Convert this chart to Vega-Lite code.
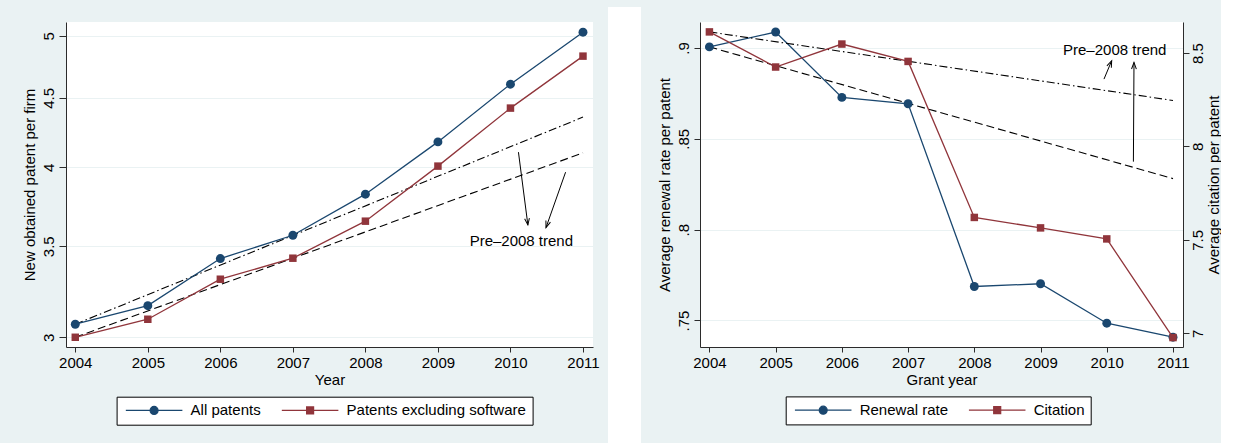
{
  "$schema": "https://vega.github.io/schema/vega-lite/v6.json",
  "background": "#eaf2f3",
  "padding": {"left": 22, "top": 7, "right": 0, "bottom": 0},
  "datasets": {
    "patents": [
      {"year": 2004, "series": "All patents", "value": 3.067},
      {"year": 2005, "series": "All patents", "value": 3.165},
      {"year": 2006, "series": "All patents", "value": 3.428},
      {"year": 2007, "series": "All patents", "value": 3.566},
      {"year": 2008, "series": "All patents", "value": 3.823},
      {"year": 2009, "series": "All patents", "value": 4.177},
      {"year": 2010, "series": "All patents", "value": 4.606},
      {"year": 2011, "series": "All patents", "value": 5.03},
      {"year": 2004, "series": "Patents excluding software", "value": 3.0},
      {"year": 2005, "series": "Patents excluding software", "value": 3.093},
      {"year": 2006, "series": "Patents excluding software", "value": 3.31},
      {"year": 2007, "series": "Patents excluding software", "value": 3.43},
      {"year": 2008, "series": "Patents excluding software", "value": 3.652},
      {"year": 2009, "series": "Patents excluding software", "value": 4.009},
      {"year": 2010, "series": "Patents excluding software", "value": 4.423},
      {"year": 2011, "series": "Patents excluding software", "value": 4.83}
    ],
    "patent_trends": [
      {"year": 2004, "series": "All patents", "value": 3.067},
      {"year": 2011, "series": "All patents", "value": 4.356},
      {"year": 2004, "series": "Patents excluding software", "value": 3.0},
      {"year": 2011, "series": "Patents excluding software", "value": 4.1}
    ],
    "left_arrows": [
      {"from_year": 2010.11, "from_value": 4.105, "to_year": 2010.24, "to_value": 3.629, "heading": 172.6},
      {"from_year": 2010.76, "from_value": 3.968, "to_year": 2010.49, "to_value": 3.6125, "heading": 199.2}
    ],
    "renewal": [
      {"year": 2004, "measure": "Renewal rate", "value": 0.9006},
      {"year": 2005, "measure": "Renewal rate", "value": 0.9088},
      {"year": 2006, "measure": "Renewal rate", "value": 0.8728},
      {"year": 2007, "measure": "Renewal rate", "value": 0.8693},
      {"year": 2008, "measure": "Renewal rate", "value": 0.7687},
      {"year": 2009, "measure": "Renewal rate", "value": 0.7702},
      {"year": 2010, "measure": "Renewal rate", "value": 0.7485},
      {"year": 2011, "measure": "Renewal rate", "value": 0.7408}
    ],
    "renewal_trend": [
      {"year": 2004, "value": 0.9006},
      {"year": 2011, "value": 0.8281}
    ],
    "citation": [
      {"year": 2004, "measure": "Citation", "value": 8.613},
      {"year": 2005, "measure": "Citation", "value": 8.425},
      {"year": 2006, "measure": "Citation", "value": 8.548},
      {"year": 2007, "measure": "Citation", "value": 8.455},
      {"year": 2008, "measure": "Citation", "value": 7.62},
      {"year": 2009, "measure": "Citation", "value": 7.564},
      {"year": 2010, "measure": "Citation", "value": 7.505},
      {"year": 2011, "measure": "Citation", "value": 6.977}
    ],
    "citation_trend": [
      {"year": 2004, "value": 8.613},
      {"year": 2011, "value": 8.246}
    ],
    "right_arrows": [
      {"from_year": 2009.958, "from_value": 8.3605, "to_year": 2010.074, "to_value": 8.4587, "heading": 22.8},
      {"from_year": 2010.402, "from_value": 7.9185, "to_year": 2010.411, "to_value": 8.4496, "heading": 0.3}
    ]
  },
  "spacing": 16,
  "resolve": {"scale": {"color": "independent"}, "legend": {"color": "independent"}},
  "hconcat": [
    {
      "spacing": 8,
      "hconcat": [
        {
          "width": 527,
          "height": 325,
          "layer": [
            {
              "data": {"name": "patent_trends"},
              "mark": {"type": "line", "color": "#000000", "strokeWidth": 1.1},
              "encoding": {
                "x": {"field": "year", "type": "quantitative", "scale": {"domain": [2003.872, 2011.138], "nice": false, "zero": false},
                      "axis": {"values": [2004, 2005, 2006, 2007, 2008, 2009, 2010, 2011], "format": "d", "title": "Year"}},
                "y": {"field": "value", "type": "quantitative", "scale": {"type": "log", "domain": [2.951, 5.1175], "nice": false},
                      "axis": {"values": [3, 3.5, 4, 4.5, 5], "format": "~g", "title": "New obtained patent per firm", "tickSize": 7}},
                "strokeDash": {"field": "series", "type": "nominal", "legend": null,
                               "scale": {"domain": ["All patents", "Patents excluding software"], "range": [[8, 3, 1.5, 3], [8, 4]]}}
              }
            },
            {
              "data": {"name": "patents"},
              "mark": {"type": "line", "strokeWidth": 1.3},
              "encoding": {
                "x": {"field": "year", "type": "quantitative", "scale": {"domain": [2003.872, 2011.138], "nice": false, "zero": false}},
                "y": {"field": "value", "type": "quantitative", "scale": {"type": "log", "domain": [2.951, 5.1175], "nice": false}},
                "color": {"field": "series", "type": "nominal",
                          "scale": {"domain": ["All patents", "Patents excluding software"], "range": ["#1a476f", "#90353b"]},
                          "legend": {"title": null, "orient": "none", "legendX": 50.6, "legendY": 374.7,
                            "encode": {"symbols": {"update": {
                            "shape": {"signal": "datum.value === 'All patents' ? 'M-7.07,0L7.07,0M-1,0A1,1,0,1,0,1,0A1,1,0,1,0,-1,0Z' : 'M-7.07,0L7.07,0M-0.875,-0.875L0.875,-0.875L0.875,0.875L-0.875,0.875Z'"},
                            "fill": {"signal": "datum.value === 'All patents' ? '#1a476f' : '#90353b'"},
                            "stroke": {"signal": "datum.value === 'All patents' ? '#1a476f' : '#90353b'"}
                          }}}}}
              }
            },
            {
              "data": {"name": "patents"},
              "transform": [{"filter": "datum.series === 'All patents'"}],
              "mark": {"type": "point", "shape": "circle", "filled": true, "size": 80, "opacity": 1, "color": "#1a476f"},
              "encoding": {
                "x": {"field": "year", "type": "quantitative", "scale": {"domain": [2003.872, 2011.138], "nice": false, "zero": false}},
                "y": {"field": "value", "type": "quantitative", "scale": {"type": "log", "domain": [2.951, 5.1175], "nice": false}}
              }
            },
            {
              "data": {"name": "patents"},
              "transform": [{"filter": "datum.series === 'Patents excluding software'"}],
              "mark": {"type": "point", "shape": "square", "filled": true, "size": 56, "opacity": 1, "color": "#90353b"},
              "encoding": {
                "x": {"field": "year", "type": "quantitative", "scale": {"domain": [2003.872, 2011.138], "nice": false, "zero": false}},
                "y": {"field": "value", "type": "quantitative", "scale": {"type": "log", "domain": [2.951, 5.1175], "nice": false}}
              }
            },
            {
              "data": {"name": "left_arrows"},
              "mark": {"type": "rule", "color": "#000000", "strokeWidth": 1},
              "encoding": {
                "x": {"field": "from_year", "type": "quantitative", "scale": {"domain": [2003.872, 2011.138], "nice": false, "zero": false}},
                "y": {"field": "from_value", "type": "quantitative", "scale": {"type": "log", "domain": [2.951, 5.1175], "nice": false}},
                "x2": {"field": "to_year"},
                "y2": {"field": "to_value"}
              }
            },
            {
              "data": {"name": "left_arrows"},
              "mark": {"type": "point", "shape": "M-0.48,1.32L0,0L0.48,1.32", "filled": false, "size": 100, "opacity": 1, "color": "#000000", "strokeWidth": 1},
              "encoding": {
                "x": {"field": "to_year", "type": "quantitative", "scale": {"domain": [2003.872, 2011.138], "nice": false, "zero": false}},
                "y": {"field": "to_value", "type": "quantitative", "scale": {"type": "log", "domain": [2.951, 5.1175], "nice": false}},
                "angle": {"field": "heading", "type": "quantitative", "scale": null}
              }
            },
            {
              "data": {"values": [{"year": 2010.15, "value": 3.532, "note": "Pre–2008 trend"}]},
              "mark": {"type": "text", "fontSize": 15, "color": "#000000", "align": "center", "baseline": "middle"},
              "encoding": {
                "x": {"field": "year", "type": "quantitative", "scale": {"domain": [2003.872, 2011.138], "nice": false, "zero": false}},
                "y": {"field": "value", "type": "quantitative", "scale": {"type": "log", "domain": [2.951, 5.1175], "nice": false}},
                "text": {"field": "note"}
              }
            }
          ]
        },
        {
          "width": 3,
          "height": 406,
          "view": {"fill": "#ffffff", "stroke": "#ffffff", "strokeWidth": 30},
          "data": {"values": [{}]},
          "mark": {"type": "rect", "opacity": 0},
          "encoding": {}
        }
      ]
    },
    {
      "width": 483,
      "height": 325,
      "resolve": {"scale": {"y": "independent"}},
      "layer": [
        {
          "layer": [
            {
              "data": {"name": "renewal_trend"},
              "mark": {"type": "line", "color": "#000000", "strokeWidth": 1.1, "strokeDash": [8, 4]},
              "encoding": {
                "x": {"field": "year", "type": "quantitative", "scale": {"domain": [2003.858, 2011.151], "nice": false, "zero": false},
                      "axis": {"values": [2004, 2005, 2006, 2007, 2008, 2009, 2010, 2011], "format": "d", "title": "Grant year"}},
                "y": {"field": "value", "type": "quantitative", "scale": {"domain": [0.7354, 0.9143], "nice": false, "zero": false},
                      "axis": {"values": [0.75, 0.8, 0.85, 0.9], "labelExpr": "replace(format(datum.value, '.2~f'), '0.', '.')",
                               "title": "Average renewal rate per patent", "tickSize": 6}}
              }
            },
            {
              "data": {"name": "renewal"},
              "mark": {"type": "line", "strokeWidth": 1.3},
              "encoding": {
                "x": {"field": "year", "type": "quantitative", "scale": {"domain": [2003.858, 2011.151], "nice": false, "zero": false}},
                "y": {"field": "value", "type": "quantitative", "scale": {"domain": [0.7354, 0.9143], "nice": false, "zero": false}},
                "color": {"field": "measure", "type": "nominal",
                          "scale": {"domain": ["Renewal rate", "Citation"], "range": ["#1a476f", "#90353b"]},
                          "legend": {"title": null, "orient": "none", "legendX": 85.7, "legendY": 374.4,
                            "encode": {"symbols": {"update": {
                            "shape": {"signal": "datum.value === 'Renewal rate' ? 'M-7.07,0L7.07,0M-1,0A1,1,0,1,0,1,0A1,1,0,1,0,-1,0Z' : 'M-7.07,0L7.07,0M-0.875,-0.875L0.875,-0.875L0.875,0.875L-0.875,0.875Z'"},
                            "fill": {"signal": "datum.value === 'Renewal rate' ? '#1a476f' : '#90353b'"},
                            "stroke": {"signal": "datum.value === 'Renewal rate' ? '#1a476f' : '#90353b'"}
                          }}}}}
              }
            },
            {
              "data": {"name": "renewal"},
              "mark": {"type": "point", "shape": "circle", "filled": true, "size": 80, "opacity": 1, "color": "#1a476f"},
              "encoding": {
                "x": {"field": "year", "type": "quantitative", "scale": {"domain": [2003.858, 2011.151], "nice": false, "zero": false}},
                "y": {"field": "value", "type": "quantitative", "scale": {"domain": [0.7354, 0.9143], "nice": false, "zero": false}}
              }
            }
          ]
        },
        {
          "layer": [
            {
              "data": {"name": "citation_trend"},
              "mark": {"type": "line", "color": "#000000", "strokeWidth": 1.1, "strokeDash": [8, 3, 1.5, 3]},
              "encoding": {
                "x": {"field": "year", "type": "quantitative", "scale": {"domain": [2003.858, 2011.151], "nice": false, "zero": false}},
                "y": {"field": "value", "type": "quantitative", "scale": {"domain": [6.9265, 8.666], "nice": false, "zero": false},
                      "axis": {"orient": "right", "values": [7, 7.5, 8, 8.5], "format": "~g", "title": "Average citation per patent",
                               "grid": false, "tickSize": 6, "labelPadding": 1, "labelBaseline": "top", "titleAngle": 270, "titleBaseline": "top", "titlePadding": 1}}
              }
            },
            {
              "data": {"name": "citation"},
              "mark": {"type": "line", "strokeWidth": 1.3},
              "encoding": {
                "x": {"field": "year", "type": "quantitative", "scale": {"domain": [2003.858, 2011.151], "nice": false, "zero": false}},
                "y": {"field": "value", "type": "quantitative", "scale": {"domain": [6.9265, 8.666], "nice": false, "zero": false}},
                "color": {"field": "measure", "type": "nominal",
                          "scale": {"domain": ["Renewal rate", "Citation"], "range": ["#1a476f", "#90353b"]},
                          "legend": {"title": null, "orient": "none", "legendX": 85.7, "legendY": 374.4,
                            "encode": {"symbols": {"update": {
                            "shape": {"signal": "datum.value === 'Renewal rate' ? 'M-7.07,0L7.07,0M-1,0A1,1,0,1,0,1,0A1,1,0,1,0,-1,0Z' : 'M-7.07,0L7.07,0M-0.875,-0.875L0.875,-0.875L0.875,0.875L-0.875,0.875Z'"},
                            "fill": {"signal": "datum.value === 'Renewal rate' ? '#1a476f' : '#90353b'"},
                            "stroke": {"signal": "datum.value === 'Renewal rate' ? '#1a476f' : '#90353b'"}
                          }}}}}
              }
            },
            {
              "data": {"name": "citation"},
              "mark": {"type": "point", "shape": "square", "filled": true, "size": 56, "opacity": 1, "color": "#90353b"},
              "encoding": {
                "x": {"field": "year", "type": "quantitative", "scale": {"domain": [2003.858, 2011.151], "nice": false, "zero": false}},
                "y": {"field": "value", "type": "quantitative", "scale": {"domain": [6.9265, 8.666], "nice": false, "zero": false}}
              }
            },
            {
              "data": {"name": "right_arrows"},
              "mark": {"type": "rule", "color": "#000000", "strokeWidth": 1},
              "encoding": {
                "x": {"field": "from_year", "type": "quantitative", "scale": {"domain": [2003.858, 2011.151], "nice": false, "zero": false}},
                "y": {"field": "from_value", "type": "quantitative", "scale": {"domain": [6.9265, 8.666], "nice": false, "zero": false}},
                "x2": {"field": "to_year"},
                "y2": {"field": "to_value"}
              }
            },
            {
              "data": {"name": "right_arrows"},
              "mark": {"type": "point", "shape": "M-0.48,1.32L0,0L0.48,1.32", "filled": false, "size": 100, "opacity": 1, "color": "#000000", "strokeWidth": 1},
              "encoding": {
                "x": {"field": "to_year", "type": "quantitative", "scale": {"domain": [2003.858, 2011.151], "nice": false, "zero": false}},
                "y": {"field": "to_value", "type": "quantitative", "scale": {"domain": [6.9265, 8.666], "nice": false, "zero": false}},
                "angle": {"field": "heading", "type": "quantitative", "scale": null}
              }
            },
            {
              "data": {"values": [{"year": 2010.12, "value": 8.518, "note": "Pre–2008 trend"}]},
              "mark": {"type": "text", "fontSize": 15, "color": "#000000", "align": "center", "baseline": "middle"},
              "encoding": {
                "x": {"field": "year", "type": "quantitative", "scale": {"domain": [2003.858, 2011.151], "nice": false, "zero": false}},
                "y": {"field": "value", "type": "quantitative", "scale": {"domain": [6.9265, 8.666], "nice": false, "zero": false}},
                "text": {"field": "note"}
              }
            }
          ]
        }
      ]
    }
  ],
  "config": {
    "font": "Liberation Sans",
    "view": {"fill": "#ffffff", "stroke": null},
    "axis": {
      "domainColor": "#2b2b2b", "domainWidth": 1, "tickColor": "#2b2b2b", "tickWidth": 1,
      "labelColor": "#000000", "labelFontSize": 15, "labelFont": "Liberation Sans",
      "titleColor": "#000000", "titleFontSize": 15, "titleFontWeight": "normal", "titleFont": "Liberation Sans",
      "gridColor": "#eaf2f3", "gridWidth": 1.2
    },
    "axisX": {"grid": false, "tickSize": 5, "labelPadding": 3, "titlePadding": 2},
    "axisY": {"grid": true, "labelAngle": 270, "labelAlign": "center", "labelBaseline": "bottom", "labelPadding": 3, "titlePadding": 4},
    "legend": {
      "direction": "horizontal",
      "labelFontSize": 15, "labelColor": "#000000", "labelFont": "Liberation Sans", "labelLimit": 400,
      "strokeColor": "#000000", "fillColor": "#ffffff", "padding": 6,
      "symbolSize": 64, "symbolStrokeWidth": 1.2, "symbolOffset": 24, "labelOffset": 29, "columnPadding": 17
    }
  }
}
